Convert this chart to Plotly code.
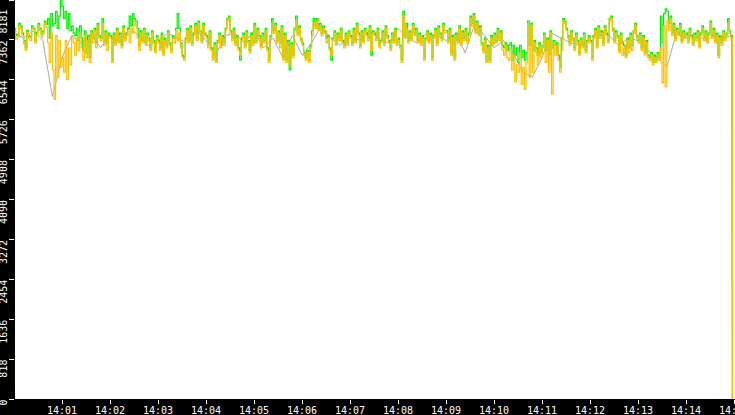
# Three noisy series around 7300 over a 15 minute window.
import pandas as pd
import plotly.graph_objects as go

# Values every 2 seconds, one row per minute (14:00 ... 14:14), ending with the drop to 0.
yellow = [
    7560, 7380, 7420, 7650, 7600, 7450, 7280, 7150, 7520, 7400, 7350, 7600, 7580, 7300, 7460,
    7650, 7560, 7420, 7500, 7700, 7620, 7300, 6900, 7500, 6750, 6150, 7450, 6600, 7350, 6800,
    7000, 6700, 7350, 6550, 7200, 6850, 7450, 7300, 7050, 7400, 7150, 7500, 7200, 6950, 7450,
    7000, 7350, 6900, 7500, 7300, 7550, 7200, 7650, 7400, 7350, 7700, 7250, 7500, 7150, 7450,
    7400, 6900, 7450, 7250, 7550, 7300, 7450, 7200, 7600, 7350, 7450, 7550, 7300, 7600, 7500,
    7750, 7650, 7400, 7150, 7500, 7300, 7550, 7250, 7450, 7350, 7150, 7500, 7300, 7100, 7400,
    7300, 7150, 7450, 7050, 7350, 7200, 7500, 7250, 7100, 7400, 7300, 7550, 7350, 7500, 7200,
    7000, 6950, 7350, 7550, 7300, 7600, 7250, 7450, 7650, 7350, 7700, 7500, 7300, 7650, 7450,
    7400, 7200, 7500, 7150, 6950, 7250, 6900, 7300, 7450, 7200, 7400, 7250, 7550, 7750, 7800,
    7500, 7350, 7550, 7250, 7400, 7150, 7050, 7350, 7450, 7200, 7500, 7300, 7100, 7450, 7250,
    7650, 7300, 7550, 7400, 7200, 7450, 7300, 7550, 7150, 6900, 7400, 7700, 7500, 7650, 7300,
    7500, 7200, 7600, 6950, 7450, 6900, 7300, 6850, 7250, 7000, 7550, 7750, 7450, 7600, 7350,
    7250, 7050, 6950, 7100, 6900, 7200, 7450, 7700, 7600, 7750, 7550, 7650, 7450, 7600, 7500,
    7300, 7400, 7150, 7050, 7350, 7500, 7250, 7450, 7350, 7550, 7300, 7200, 7450, 7250, 7500,
    7400, 7250, 7550, 7300, 7650, 7450, 7200, 7500, 7300, 7550, 7450, 7350, 7600, 7150, 7500,
    7450, 7350, 7550, 7200, 7300, 7500, 7250, 7600, 7400, 7300, 7150, 7450, 7300, 7550, 7250,
    7350, 7200, 6900, 7850, 7400, 7600, 7300, 7500, 7350, 7650, 7450, 7550, 7300, 7450, 7250,
    7400, 6950, 7350, 7500, 7300, 7450, 6950, 7400, 7550, 7250, 7600, 7450, 7350, 7650, 7500,
    7500, 7300, 7550, 7050, 7400, 6950, 7450, 7300, 7600, 7250, 7500, 7350, 7550, 7300, 7450,
    7800, 7650, 7850, 7500, 7700, 7450, 7600, 7250, 7100, 7350, 6900, 7200, 6900, 7400, 7250,
    7450, 7300, 7550, 7350, 7500, 7150, 7050, 7250, 7000, 6950, 7200, 6750, 7050, 6500, 6850,
    6700, 7100, 6450, 6800, 6350, 6900, 7700, 6600, 7650, 6700, 7300, 7100, 6850, 7250, 7000,
    7200, 7450, 6900, 7350, 6700, 7500, 6250, 7300, 7050, 7250, 6950, 6700, 7150, 7750, 7700,
    7550, 7400, 7250, 7500, 7350, 7150, 7450, 7300, 7050, 7350, 7200, 7450, 7100, 7300, 7400,
    7300, 6950, 7400, 7550, 7200, 7600, 7400, 7500, 7250, 7600, 7450, 7300, 7750, 7800, 7550,
    7300, 7500, 7400, 7100, 7450, 7050, 7200, 7000, 7350, 7100, 7450, 7150, 7500, 7650, 7400,
    7300, 7450, 7150, 7400, 7050, 7300, 7000, 6950, 7050, 6850, 7000, 6900, 7050, 6950, 7200,
    6480, 7650, 6400, 7750, 7550, 7800, 7450, 7650, 7350, 7550, 7450, 7650, 7300, 7500, 7400,
    7450, 7300, 7550, 7400, 7250, 7450, 7350, 7500, 7200, 7450, 7600, 7350, 7500, 7300, 7450,
    7700, 7400, 7550, 7300, 7450, 7000, 7400, 7250, 7500, 7350, 7450, 7700, 7500, 7400, 0,
]

green = [
    7600, 7450, 7480, 7700, 7650, 7500, 7350, 7200, 7560, 7450, 7420, 7650, 7600, 7350, 7520,
    7700, 7600, 7480, 7550, 7750, 7680, 7800, 7400, 7900, 7650, 7700, 7950, 7600, 7850, 8250,
    8050, 7800, 7950, 7600, 7900, 7550, 7650, 7500, 7450, 7600, 7350, 7650, 7400, 7150, 7550,
    7100, 7450, 7000, 7550, 7400, 7600, 7300, 7700, 7450, 7400, 7800, 7350, 7550, 7300, 7500,
    7450, 6950, 7500, 7300, 7600, 7350, 7500, 7250, 7650, 7400, 7500, 7600, 7850, 7650, 7900,
    7800, 7750, 7600, 7250, 7550, 7350, 7600, 7300, 7500, 7400, 7200, 7550, 7350, 7150, 7450,
    7350, 7200, 7500, 7100, 7400, 7250, 7550, 7300, 7150, 7450, 7400, 7600, 7900, 7600, 7300,
    7050, 7000, 7400, 7600, 7350, 7650, 7300, 7500, 7700, 7400, 7750, 7550, 7350, 7700, 7500,
    7450, 7300, 7550, 7200, 7000, 7300, 6950, 7350, 7500, 7250, 7450, 7300, 7600, 7800, 7850,
    7550, 7400, 7600, 7300, 7450, 7200, 6950, 7400, 7500, 7250, 7550, 7350, 7150, 7500, 7300,
    7700, 7350, 7600, 7450, 7250, 7500, 7350, 7600, 7200, 6950, 7450, 7800, 7550, 7700, 7350,
    7550, 7300, 7650, 7000, 7500, 6950, 7350, 6750, 7300, 7050, 7600, 7850, 7500, 7650, 7400,
    7300, 7100, 7000, 7150, 6950, 7250, 7550, 7800, 7650, 7800, 7600, 7700, 7500, 7650, 7550,
    7400, 7450, 7200, 6950, 7400, 7550, 7300, 7500, 7400, 7600, 7350, 7250, 7500, 7300, 7550,
    7450, 7300, 7600, 7350, 7700, 7500, 7250, 7550, 7350, 7600, 7500, 7400, 7650, 7050, 7550,
    7500, 7400, 7600, 7250, 7350, 7550, 7300, 7650, 7450, 7350, 7200, 7500, 7350, 7600, 7300,
    7400, 7250, 6950, 7950, 7450, 7700, 7350, 7550, 7400, 7700, 7500, 7600, 7350, 7500, 7300,
    7450, 7000, 7400, 7550, 7350, 7500, 7000, 7450, 7600, 7300, 7650, 7500, 7400, 7700, 7550,
    7550, 7350, 7600, 7100, 7450, 7000, 7500, 7350, 7650, 7300, 7550, 7400, 7600, 7350, 7500,
    7850, 7700, 7900, 7550, 7750, 7500, 7650, 7300, 7150, 7400, 6950, 7250, 6950, 7450, 7300,
    7500, 7350, 7600, 7400, 7550, 7250, 7200, 7300, 7150, 7250, 7300, 6950, 7250, 7050, 7200,
    6900, 7250, 7000, 7150, 6950, 7100, 7750, 7250, 7700, 7150, 7350, 7200, 7050, 7300, 7100,
    7250, 7500, 7150, 7400, 7050, 7550, 7200, 7350, 7250, 7300, 7050, 6800, 7400, 7800, 7750,
    7600, 7450, 7300, 7550, 7400, 7200, 7500, 7350, 7100, 7400, 7250, 7500, 7150, 7350, 7450,
    7350, 7000, 7450, 7600, 7250, 7650, 7450, 7550, 7300, 7650, 7500, 7350, 7800, 7850, 7600,
    7350, 7550, 7450, 7150, 7500, 7300, 7250, 7050, 7400, 7200, 7500, 7250, 7550, 7700, 7450,
    7350, 7500, 7200, 7450, 7100, 7350, 7050, 7000, 7100, 6900, 7050, 6950, 7100, 7000, 7850,
    7300, 7900, 8000, 7950, 7700, 7850, 7500, 7700, 7400, 7600, 7500, 7700, 7350, 7550, 7450,
    7500, 7350, 7600, 7450, 7300, 7500, 7400, 7550, 7250, 7500, 7650, 7400, 7550, 7350, 7500,
    7750, 7450, 7600, 7350, 7500, 7050, 7450, 7300, 7550, 7400, 7500, 7800, 7550, 7450, 0,
]

# Grey series is sampled every 12 seconds; its last value (0) comes just before 14:15.
grey = [
    7500, 7400, 7550, 7350, 6200,
    7000, 7450, 7300, 7500, 7200,
    7450, 7300, 7600, 7450, 7250,
    7350, 7500, 7400, 7300, 7550,
    7350, 7050, 7450, 7500, 7300,
    7550, 7200, 7400, 7000, 7450,
    7050, 7300, 7650, 7400, 7250,
    7450, 7350, 7550, 7400, 7300,
    7600, 7400, 7300, 7500, 7450,
    7350, 7500, 7100, 7700, 7450,
    7200, 7350, 7100, 6700, 6600,
    7000, 7500, 7400, 7300, 7250,
    7400, 7550, 7450, 7250, 7400,
    7350, 7150, 7000, 6800, 7500,
    7400, 7500, 7350, 7450, 7400,
    7450, 0,
]

y_ticks = [0, 818.1, 1636.2, 2454.3, 3272.4, 4090.5, 4908.6, 5726.7, 6544.8, 7362.9, 8181]
y_labels = ["0", "818", "1636", "2454", "3272", "4090", "4908", "5726", "6544", "7362", "8181"]

start = "2024-01-01 14:00:00"
t_fast = pd.date_range(start, periods=len(yellow), freq="2s")
t_slow = list(pd.date_range(start, periods=len(grey) - 2, freq="12s"))
t_slow += [pd.Timestamp("2024-01-01 14:14:57"), pd.Timestamp("2024-01-01 14:14:58")]

fig = go.Figure()
fig.add_trace(go.Scatter(x=t_slow, y=grey, mode="lines",
                         line=dict(color="#A8A8A8", width=1)))
fig.add_trace(go.Scatter(x=t_fast, y=green, mode="lines", line_shape="hv",
                         line=dict(color="#00F000", width=1.2)))
fig.add_trace(go.Scatter(x=t_fast, y=yellow, mode="lines", line_shape="hv",
                         line=dict(color="#FFC000", width=1.2)))

# pad labels so the digits hang just under their tick, like the original
padded = ["\u00a0" * (4 - len(s)) + s for s in y_labels]
padded[-1] = y_labels[-1] + "\u00a0" * 3  # top label kept inside the window

fig.update_layout(
    width=735, height=415,
    margin=dict(l=15, r=0, t=0, b=16),
    paper_bgcolor="black", plot_bgcolor="white",
    showlegend=False,
    font=dict(family="DejaVu Sans Mono", size=10, color="white"),
)
fig.update_xaxes(
    range=["2024-01-01 14:00:01.25", "2024-01-01 14:15:01.25"],
    dtick=60000, tickformat="%H:%M",
    showgrid=False, zeroline=False, automargin=False,
    ticklabeloverflow="allow", ticklabelstandoff=-2,
    ticks="outside", ticklen=4, tickcolor="white", tickwidth=1,
)
fig.update_yaxes(
    range=[0, 8181],
    tickvals=y_ticks, ticktext=padded, tickangle=-90,
    ticklabelshift=14, ticklabelstandoff=-2, ticklabeloverflow="allow",
    showgrid=False, zeroline=False, automargin=False,
    ticks="outside", ticklen=5, tickcolor="white", tickwidth=1,
)

# the page's default body margin would push the chart off the window
fig.write_html("out.html", config={"displayModeBar": False},
               post_script="document.body.style.margin = '0';")
